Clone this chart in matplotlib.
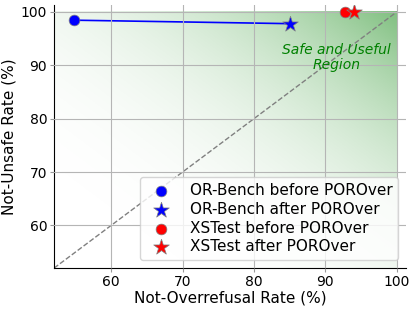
import numpy as np
import matplotlib
matplotlib.use("Agg")
import matplotlib.pyplot as plt

# Not-Overrefusal rate (x) and Not-Unsafe rate (y), before / after POROver
orbench_x = [54.8, 85.0]
orbench_y = [98.45, 97.8]
xstest_x = [92.7, 94.0]
xstest_y = [100.0, 100.0]

fig, ax = plt.subplots(figsize=(4.16, 3.11), dpi=100)

# green gradient for the "safe and useful" corner (alpha grows toward top-right)
gx, gy = np.meshgrid(np.linspace(0, 1, 200), np.linspace(0, 1, 200))
rgba = np.zeros((200, 200, 4))
rgba[..., 1] = 128 / 255
rgba[..., 3] = 0.5 * ((gx + gy) / 2) ** 3
ax.imshow(rgba, extent=[52, 100, 52, 100], origin="lower", aspect="auto", zorder=0)

ax.plot([52, 100], [52, 100], linestyle="--", color="gray", linewidth=1, zorder=1)

ax.plot(orbench_x, orbench_y, color="blue", linewidth=1.2, zorder=2)
ax.plot(xstest_x, xstest_y, color="red", linewidth=1.2, zorder=2)
ax.scatter(orbench_x[0], orbench_y[0], s=60, color="blue", marker="o",
           edgecolors="gray", linewidths=0.5, zorder=3, label="OR-Bench before POROver")
ax.scatter(orbench_x[1], orbench_y[1], s=140, color="blue", marker="*",
           edgecolors="gray", linewidths=0.5, zorder=3, label="OR-Bench after POROver")
ax.scatter(xstest_x[0], xstest_y[0], s=60, color="red", marker="o",
           edgecolors="gray", linewidths=0.5, zorder=3, label="XSTest before POROver")
ax.scatter(xstest_x[1], xstest_y[1], s=140, color="red", marker="*",
           edgecolors="gray", linewidths=0.5, zorder=3, label="XSTest after POROver")

ax.text(91.6, 91.4, "Safe and Useful\nRegion", color="green", style="italic",
        ha="center", va="center", fontsize=10, linespacing=1.1)

ax.set_xlim(52, 101.3)
ax.set_ylim(52, 101.3)
ax.set_xticks([60, 70, 80, 90, 100])
ax.set_yticks([60, 70, 80, 90, 100])
ax.tick_params(labelsize=10, length=3, pad=2, color="#999999")
ax.set_xlabel("Not-Overrefusal Rate (%)", fontsize=11, labelpad=1)
ax.set_ylabel("Not-Unsafe Rate (%)", fontsize=11, labelpad=3)
ax.grid(True, color="#b5b5b5", linewidth=0.8, zorder=0.5)
ax.set_axisbelow(False)
for s in ["top", "right"]:
    ax.spines[s].set_visible(False)

ax.legend(loc="lower right", fontsize=11, framealpha=0.8, handletextpad=0.85,
          borderpad=0.4, labelspacing=0.25)

fig.subplots_adjust(left=0.13, right=0.976, top=0.984, bottom=0.138)
fig.savefig("out.png", dpi=100)
